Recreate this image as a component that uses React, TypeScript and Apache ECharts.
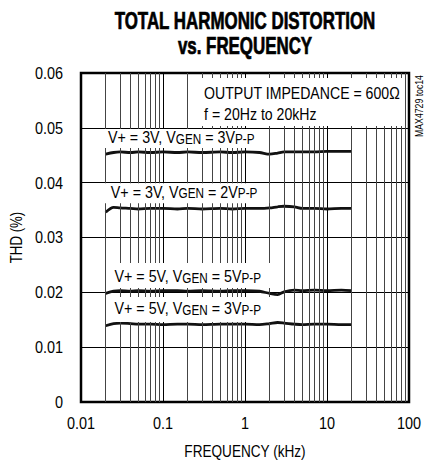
import React, { useEffect, useRef } from "react";
import * as echarts from "echarts";

// ---- data ----
const freqKHz = [0.02, 0.025, 0.03, 0.04, 0.05, 0.07, 0.1, 0.15, 0.2, 0.3, 0.5, 0.7, 1, 1.5, 2, 2.5, 3, 4, 5, 7, 10, 15, 20];
const thd3V3Vpp = [0.0452, 0.0455, 0.0456, 0.0455, 0.0456, 0.0455, 0.0456, 0.0455, 0.0456, 0.0455, 0.0456, 0.0455, 0.0456, 0.0455, 0.0452, 0.0454, 0.0456, 0.0456, 0.0456, 0.0456, 0.0457, 0.0457, 0.0457];
const thd3V2Vpp = [0.0346, 0.0355, 0.0354, 0.0353, 0.0352, 0.0353, 0.0353, 0.0352, 0.0353, 0.0352, 0.0353, 0.0352, 0.0353, 0.0353, 0.0354, 0.0356, 0.0357, 0.0356, 0.0353, 0.0353, 0.0352, 0.0353, 0.0353];
const thd5V5Vpp = [0.0198, 0.0202, 0.0203, 0.0202, 0.0203, 0.0202, 0.0203, 0.0203, 0.0202, 0.0203, 0.0202, 0.0203, 0.0203, 0.0202, 0.0198, 0.0196, 0.0201, 0.0204, 0.0203, 0.0204, 0.0203, 0.0204, 0.0203];
const thd5V3Vpp = [0.0139, 0.0143, 0.0144, 0.0143, 0.0142, 0.0142, 0.0141, 0.0142, 0.0142, 0.0141, 0.0142, 0.0142, 0.0142, 0.0141, 0.0143, 0.0145, 0.0144, 0.0142, 0.0141, 0.0142, 0.0142, 0.0141, 0.0141];

const xTickValues = [0.01, 0.1, 1, 10, 100];
const xTickLabels = ["0.01", "0.1", "1", "10", "100"];
const yTickValues = [0, 0.01, 0.02, 0.03, 0.04, 0.05, 0.06];
const yTickLabels = ["0", "0.01", "0.02", "0.03", "0.04", "0.05", "0.06"];

const curveLabelParts = [
  ["V+ = 3V, V", "GEN", " = 3V", "P-P"],
  ["V+ = 3V, V", "GEN", " = 2V", "P-P"],
  ["V+ = 5V, V", "GEN", " = 5V", "P-P"],
  ["V+ = 5V, V", "GEN", " = 3V", "P-P"],
];

const titleLines = ["TOTAL HARMONIC DISTORTION", "vs. FREQUENCY"];
const noteLines = ["OUTPUT IMPEDANCE = 600Ω", "f = 20Hz to 20kHz"];
const xAxisName = "FREQUENCY (kHz)";
const yAxisName = "THD (%)";
const partCode = "MAX4729 toc14";

const FONT = '"Liberation Sans", Arial, Helvetica, sans-serif';

export default function App() {
  const ref = useRef<HTMLDivElement>(null);

  useEffect(() => {
    if (!ref.current) return;
    const chart = echarts.init(ref.current, undefined, { renderer: "svg" });

    const minorGrid: number[] = [];
    [0.01, 0.1, 1, 10].forEach((d) => {
      [2, 3, 4, 5, 6, 7, 8, 9].forEach((m) => minorGrid.push(+(d * m).toPrecision(3)));
    });

    const curves = [thd3V3Vpp, thd3V2Vpp, thd5V5Vpp, thd5V3Vpp];

    const option: any = {
      animation: false,
      backgroundColor: "#fff",
      grid: {
        left: 81,
        right: 16,
        top: 73,
        bottom: 58,
        show: true,
        borderColor: "#000",
        borderWidth: 2.5,
        backgroundColor: "transparent",
      },
      xAxis: {
        type: "log",
        logBase: 10,
        min: 0.01,
        max: 100,
        axisLine: { show: false },
        axisTick: { show: false },
        axisLabel: { show: false },
        splitLine: { show: true, lineStyle: { color: "#000", width: 1 } },
      },
      yAxis: {
        type: "value",
        min: 0,
        max: 0.06,
        interval: 0.01,
        axisLine: { show: false },
        axisTick: { show: false },
        axisLabel: { show: false },
        splitLine: { show: true, lineStyle: { color: "#000", width: 1 } },
      },
      series: [
        {
          type: "line",
          data: [],
          z: 1,
          silent: true,
          markLine: {
            silent: true,
            symbol: ["none", "none"],
            label: { show: false },
            lineStyle: { color: "#444", width: 1, type: "solid" },
            data: minorGrid.map((v) => ({ xAxis: v })),
          },
        },
        ...curves.map((c) => ({
          type: "line",
          z: 3,
          silent: true,
          showSymbol: false,
          smooth: 0.3,
          lineStyle: { color: "#111", width: 2.8 },
          data: freqKHz.map((f, i) => [f, c[i]]),
        })),
      ],
    };

    chart.setOption(option);

    const px = (x: number, y: number) => chart.convertToPixel({ gridIndex: 0 }, [x, y]) as number[];

    const txt = (text: string, x: number, y: number, size: number, sx: number, align: string, vAlign: string, extra: any = {}) => {
      const { weight, stroke, ...rest } = extra;
      return {
        type: "text",
        x,
        y,
        scaleX: sx,
        z: 100,
        silent: true,
        ...rest,
        style: {
          text,
          font: `${weight || "normal"} ${size}px ${FONT}`,
          fill: "#000",
          ...(stroke ? { stroke: "#000", lineWidth: stroke } : {}),
          align,
          verticalAlign: vAlign,
          textAlign: align,
          textVerticalAlign: vAlign,
        },
      };
    };

    const graphics: any[] = [];

    // title
    graphics.push(txt(titleLines[0], 245, 21, 23, 0.735, "center", "middle", { weight: "bold", stroke: 0.7 }));
    graphics.push(txt(titleLines[1], 245, 46, 23, 0.735, "center", "middle", { weight: "bold", stroke: 0.7 }));

    // y tick labels
    yTickValues.forEach((v, i) => {
      const p = px(0.01, v);
      graphics.push(txt(yTickLabels[i], p[0] - 18, p[1], 17, 0.85, "right", "middle"));
    });
    // x tick labels
    xTickValues.forEach((v, i) => {
      const p = px(v, 0);
      graphics.push(txt(xTickLabels[i], p[0], p[1] + 21.5, 17, 0.85, "center", "middle"));
    });
    // axis names
    const pl = px(0.01, 0);
    const pr = px(100, 0.06);
    graphics.push(txt(xAxisName, (pl[0] + pr[0]) / 2, pl[1] + 48.5, 17, 0.8, "center", "middle"));
    graphics.push(
      txt(yAxisName, 16, (pl[1] + pr[1]) / 2, 17, 0.78, "center", "middle", { rotation: Math.PI / 2 })
    );

    // part code
    graphics.push(txt(partCode, 420, 106, 10, 0.87, "center", "middle", { rotation: Math.PI / 2 }));

    // curve labels (white boxes anchored at top-left in data coordinates)
    const labelAnchors = [
      { pos: [0.01855, 0.0498], pad: [0, 14, 2, 6] },
      { pos: [0.0196, 0.0399], pad: [0, 14, 3, 7] },
      { pos: [0.02075, 0.02535], pad: [5, 11, 3, 9] },
      { pos: [0.02075, 0.01915], pad: [3, 11, 5, 9] },
    ];
    const rich = {
      m: { fontSize: 17, lineHeight: 17, fontFamily: FONT, fill: "#000", color: "#000" },
      s: { fontSize: 14, lineHeight: 10, verticalAlign: "bottom", fontFamily: FONT, fill: "#000", color: "#000" },
    };
    curveLabelParts.forEach((p, i) => {
      const a = labelAnchors[i];
      const pt = px(a.pos[0], a.pos[1]);
      graphics.push({
        type: "text",
        x: pt[0],
        y: pt[1],
        scaleX: 0.84,
        z: 50,
        silent: true,
        style: {
          text: `{m|${p[0]}}{s|${p[1]}}{m|${p[2]}}{s|${p[3]}}`,
          rich,
          fill: "#000",
          backgroundColor: "#fff",
          padding: a.pad,
          align: "left",
          verticalAlign: "top",
          textAlign: "left",
          textVerticalAlign: "top",
        },
      });
    });

    // note box
    const np = px(0.2455, 0.05909);
    graphics.push({
      type: "text",
      x: np[0],
      y: np[1],
      scaleX: 0.83,
      z: 50,
      silent: true,
      style: {
        text: noteLines.join("\n"),
        font: `17px ${FONT}`,
        lineHeight: 21,
        fill: "#000",
        backgroundColor: "#fff",
        padding: [5, 5, 1, 11],
        align: "left",
        verticalAlign: "top",
        textAlign: "left",
        textVerticalAlign: "top",
      },
    });

    chart.setOption({ graphic: graphics });
    return () => chart.dispose();
  }, []);

  return (
    <div
      ref={ref}
      style={{ position: "absolute", left: 0, top: 0, width: 425, height: 460 }}
    />
  );
}
